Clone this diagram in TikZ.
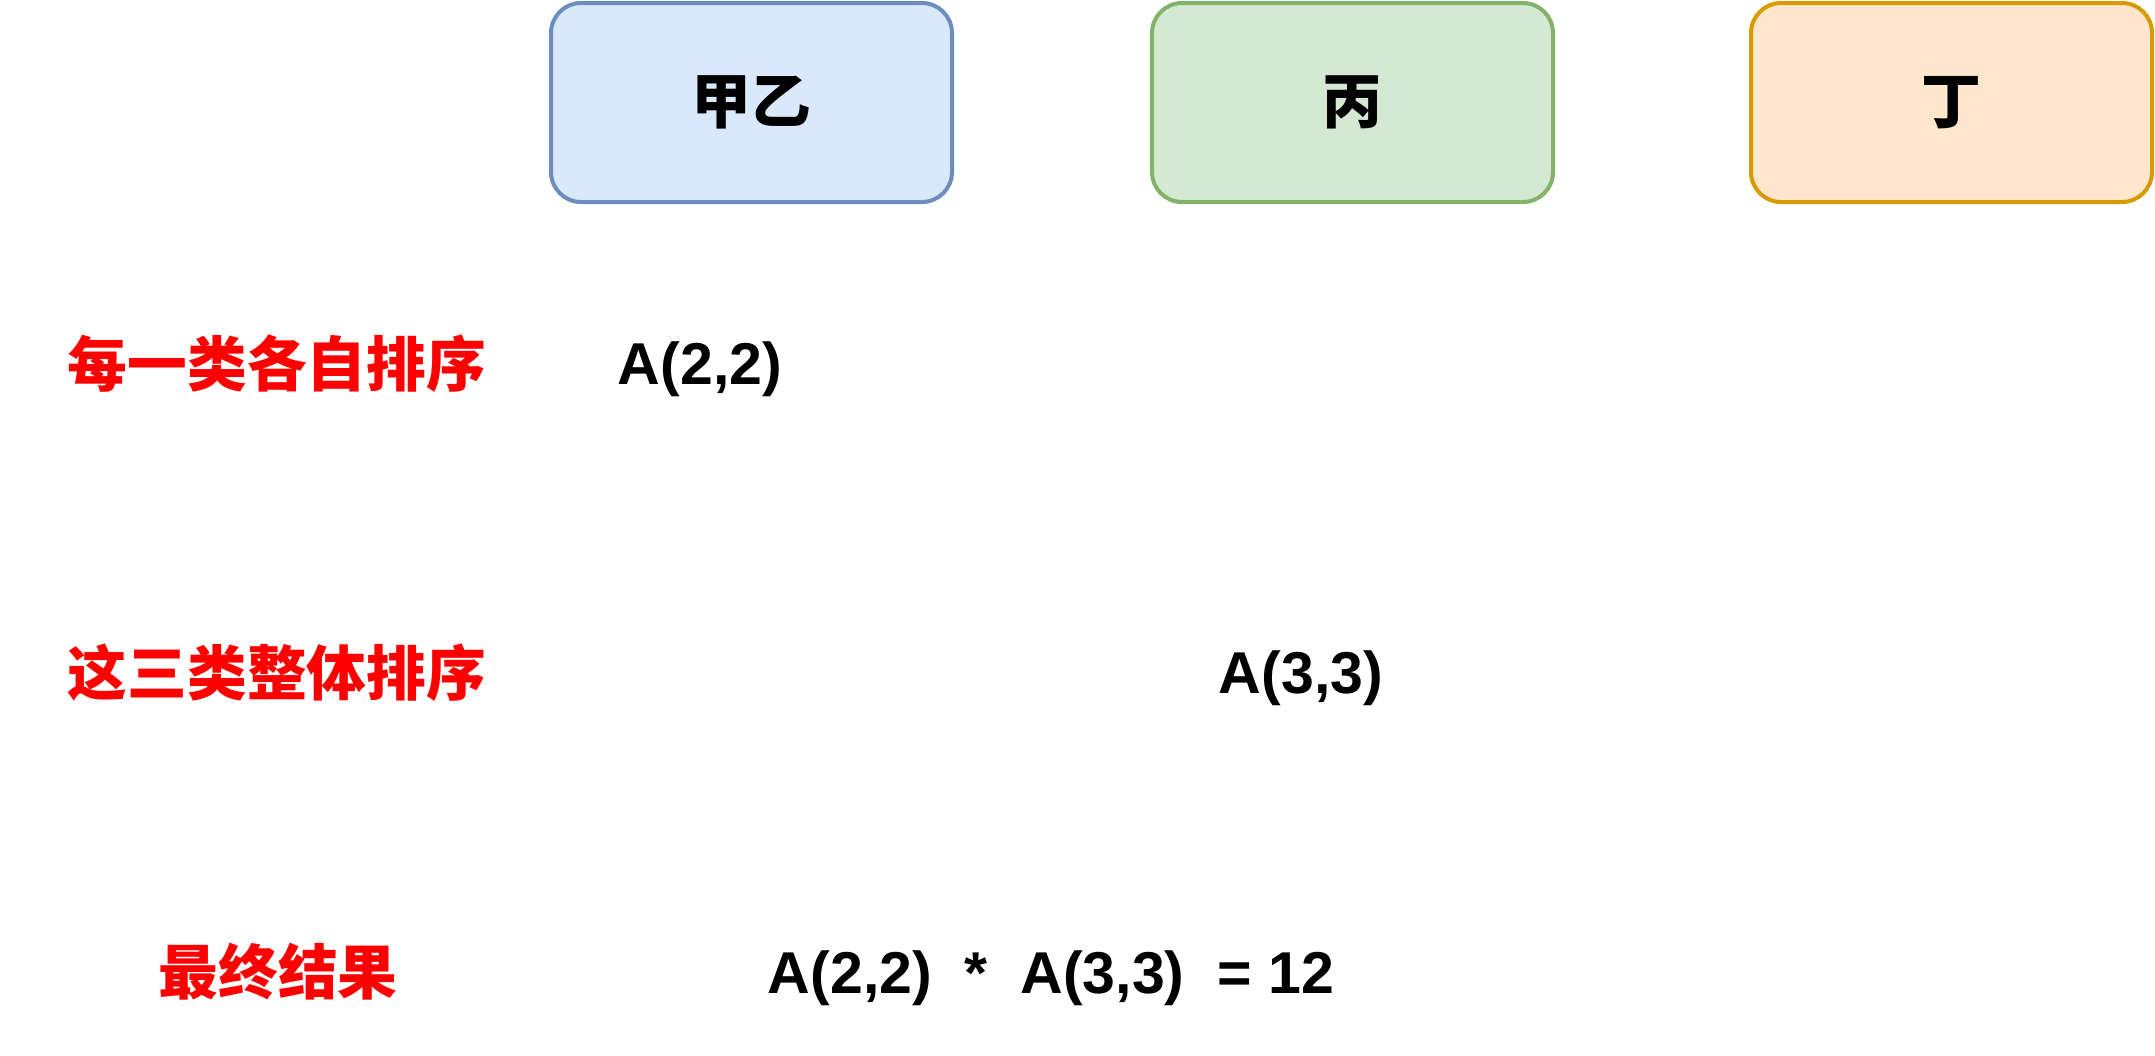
\documentclass[tikz,border=0pt]{standalone}
\usepackage{fontspec}
\usepackage{xcolor}
\usepackage{tikz}
\usetikzlibrary{positioning}
\setmainfont{Liberation Sans}
\newfontfamily\cjk{Noto Sans CJK SC}[BoldFont={Noto Sans CJK SC Black}]
\definecolor{jiaFill}{HTML}{DAE8FC}
\definecolor{jiaDraw}{HTML}{6C8EBF}
\definecolor{bingFill}{HTML}{D5E8D4}
\definecolor{bingDraw}{HTML}{82B366}
\definecolor{dingFill}{HTML}{FFE6CC}
\definecolor{dingDraw}{HTML}{D79B00}
\definecolor{stepred}{HTML}{FF0000}

\begin{document}
\begin{tikzpicture}[x=0.1mm, y=-0.1mm,
    catbox/.style={rectangle, rounded corners=3mm, line width=0.4mm, minimum width=40.1mm, minimum height=19.9mm, font=\cjk\bfseries\fontsize{17}{20}\selectfont},
    steplabel/.style={inner sep=0pt, text=stepred, font=\cjk\bfseries\fontsize{17}{20}\selectfont},
    formula/.style={inner sep=0pt, font=\bfseries\fontsize{16.8}{20}\selectfont}
]
    \useasboundingbox (0,0) rectangle (2155,1055);

    % the three groups
    \node[catbox, draw=jiaDraw, fill=jiaFill] (jiayi) at (751.5,102.5) {甲乙};
    \node[catbox, draw=bingDraw, fill=bingFill] (bing) at (1352.5,102.5) {丙};
    \node[catbox, draw=dingDraw, fill=dingFill] (ding) at (1951.5,102.5) {丁};

    % steps
    \node[steplabel] (step1) at (277,364) {每一类各自排序};
    \node[steplabel] (step2) at (277,673) {这三类整体排序};
    \node[steplabel] (step3) at (278,972) {最终结果};

    \node[formula] (perm1) at (700,369) {A(2,2)};
    \node[formula] (perm2) at (1301,678) {A(3,3)};
    \node[formula] (result) at (1051,978) {A(2,2)\ \ *\ \ A(3,3)\ \ = 12};
\end{tikzpicture}
\end{document}
